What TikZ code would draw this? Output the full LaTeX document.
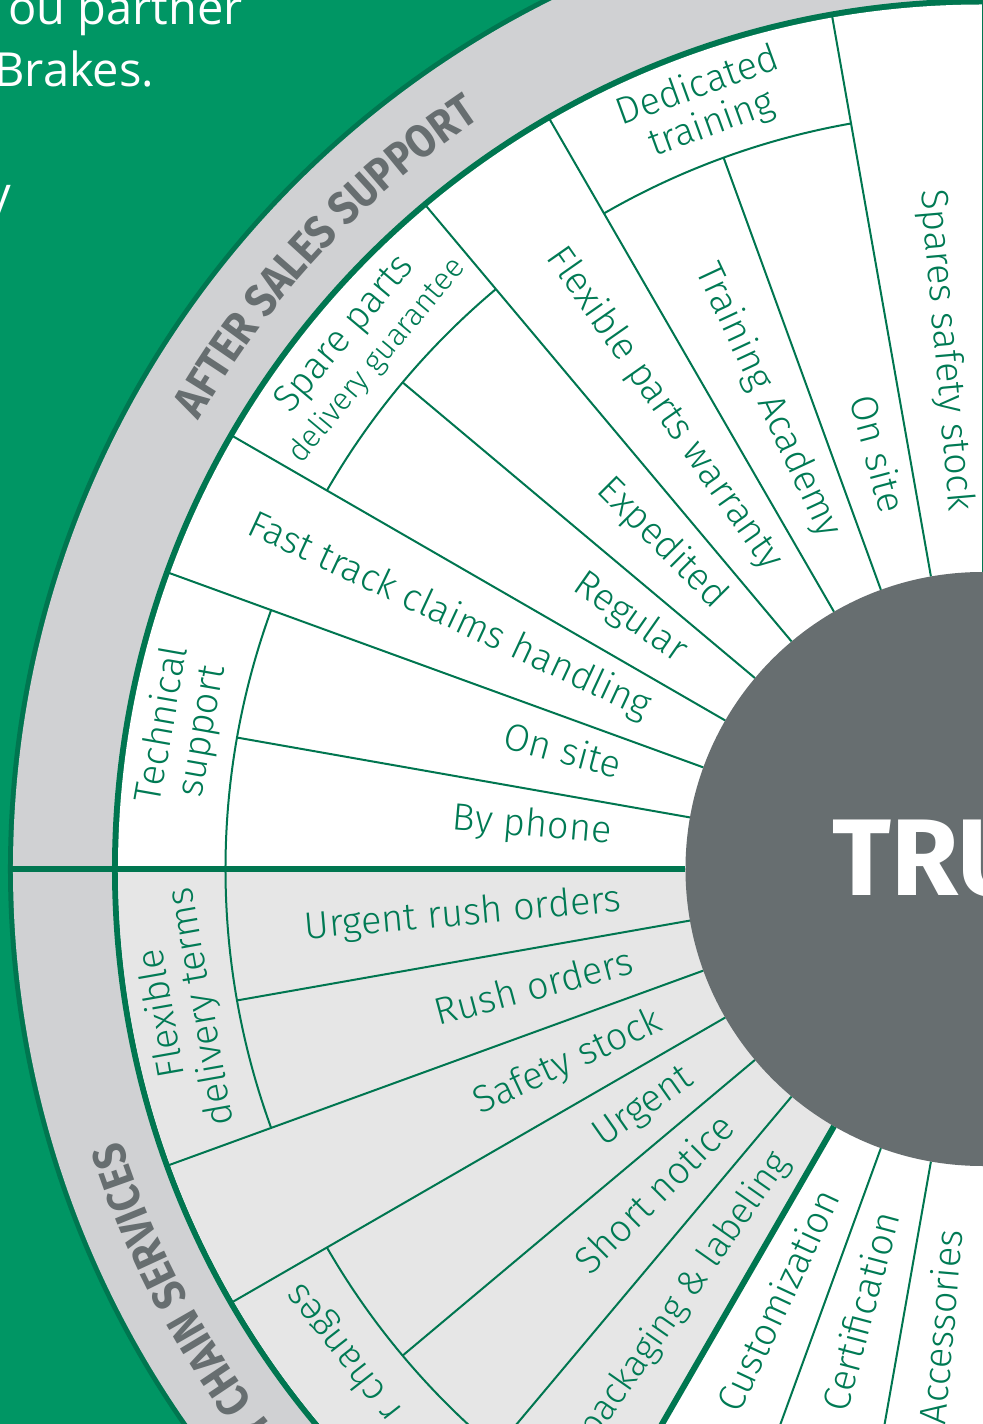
\documentclass[tikz,border=0pt]{standalone}
\usepackage{fontspec}
\IfFontExistsTF{Fira Sans Light}{\setmainfont{Fira Sans Light}[BoldFont={Fira Sans Bold}]}{\setmainfont{Fira Sans}}
\newfontfamily\introfont{Open Sans}
\newfontfamily\bandfont{Fira Sans Bold}[FakeStretch=0.88]
\usepackage{tikz}
\usetikzlibrary{decorations.text}
\usepackage{xcolor}
\definecolor{bggreen}{RGB}{0,150,100}
\definecolor{rimgreen}{RGB}{0,118,80}
\definecolor{bandgrey}{RGB}{208,209,211}
\definecolor{fillgrey}{RGB}{230,230,230}
\definecolor{coregrey}{RGB}{103,110,112}
\definecolor{labelgreen}{RGB}{0,122,84}
\tikzstyle{spoke} = [line width=1pt, color=rimgreen]
\tikzstyle{mainspoke} = [line width=3pt, color=rimgreen]
\tikzstyle{radlabel} = [anchor=east, inner sep=0pt, text height=0.8em, text depth=0.1em, text=labelgreen, font=\fontsize{19}{21}\selectfont]
\tikzstyle{catlabel} = [align=center, inner sep=0pt, text=labelgreen, font=\fontsize{19}{20}\selectfont]
\tikzstyle{introtext} = [inner sep=0pt, text=white, font=\introfont\fontsize{23.5}{28}\selectfont]

\begin{document}
\begin{tikzpicture}[x=0.5pt, y=0.5pt]
% Frame and background
\useasboundingbox (-982.5,-555) rectangle (0.5,869);
\clip (-982.5,-555) rectangle (0.5,869);
\fill[bggreen] (-982.5,-555) rectangle (0.5,869);

% Rings
\fill[rimgreen] (0,0) circle[radius=974.5];
\fill[bandgrey] (0,0) circle[radius=969.5];
\fill[rimgreen] (0,0) circle[radius=870.5];
\fill[white] (0,0) circle[radius=864.5];
\fill[fillgrey] (0,0) -- (180:864.5) arc[start angle=180, end angle=240, radius=864.5] -- cycle;

% Spokes, after sales support
\draw[spoke] (90:297) -- (90:866);
\draw[spoke] (100:297) -- (100:866);
\draw[spoke] (110:297) -- (110:757);
\draw[spoke] (120:297) -- (120:866);
\draw[spoke] (130:297) -- (130:866);
\draw[spoke] (140:297) -- (140:757);
\draw[spoke] (150:297) -- (150:866);
\draw[spoke] (160:297) -- (160:866);
\draw[spoke] (170:297) -- (170:757);

% Spokes, supply chain services
\draw[spoke] (190:297) -- (190:757);
\draw[spoke] (200:297) -- (200:866);
\draw[spoke] (210:297) -- (210:866);
\draw[spoke] (220:297) -- (220:757);
\draw[spoke] (230:297) -- (230:866);
\draw[spoke] (250:297) -- (250:866);
\draw[spoke] (260:297) -- (260:866);

% Inner arcs of the groups
\draw[spoke] (100:757) arc[start angle=100, end angle=120, radius=757];
\draw[spoke] (130:757) arc[start angle=130, end angle=150, radius=757];
\draw[spoke] (160:757) arc[start angle=160, end angle=180, radius=757];
\draw[spoke] (180:757) arc[start angle=180, end angle=200, radius=757];
\draw[spoke] (210:757) arc[start angle=210, end angle=230, radius=757];

% Main dividers
\draw[mainspoke] (180:297) -- (180:972);
\draw[mainspoke] (240:297) -- (240:867.5);

% Central node
\fill[coregrey] (0,0) circle[radius=297];
\node (core) [anchor=base west, inner sep=0pt, text=white, font=\fontsize{54.5}{60}\selectfont\bfseries] at (-150.5,-26) {TRU};

% Band titles
\path[decorate, decoration={text along path, text={|\bandfont\fontsize{23}{26}\selectfont\color{coregrey}|AFTER SALES SUPPORT}, text align=center}]
  (164:903) arc[start angle=164, end angle=110, radius=903];
\path[decorate, decoration={text along path, text={|\bandfont\fontsize{23}{26}\selectfont\color{coregrey}|Y CHAIN SERVICES}, text align=right}]
  (240:903) arc[start angle=240, end angle=197.5, radius=903];

% Intro text
\node (intro1) [introtext, anchor=base east] at (-739.5,844) {ou partner};
\node (intro2) [introtext, anchor=base west] at (-988.5,782) {Brakes.};
\node (intro3) [introtext, anchor=base east] at (-970.5,658) {y};

% Group labels
\node (tech) [catlabel, rotate=80] at (170:812) {Technical\\support};
\node (spare) [catlabel, rotate=50] at (140:812) {Spare parts\\{\fontsize{15.5}{17}\selectfont delivery guarantee}};
\node (dedic) [catlabel, rotate=20] at (110:812) {Dedicated\\training};
\node (flex) [catlabel, rotate=100] at (190:812) {Flexible\\delivery terms};
\node (order) [catlabel, anchor=east, rotate=128] at (211.3:806) {r changes};

% Service labels, after sales support
\node (phone) [radlabel, rotate=-5] at (175:372) {By phone};
\node (site1) [radlabel, rotate=-15] at (165:376) {On site};
\node (claims) [radlabel, rotate=-25] at (155:370) {Fast track claims handling};
\node (regular) [radlabel, rotate=-35] at (145:368) {Regular};
\node (exped) [radlabel, rotate=-45] at (135:373) {Expedited};
\node (warranty) [radlabel, rotate=-55] at (125:367) {Flexible parts warranty};
\node (academy) [radlabel, rotate=-65] at (115:366) {Training Academy};
\node (site2) [radlabel, rotate=-75] at (105:368) {On site};
\node (spares) [radlabel, rotate=-85] at (94.2:358) {Spares safety stock};

% Service labels, supply chain services
\node (urgrush) [radlabel, rotate=5] at (185.6:362) {Urgent rush orders};
\node (rush) [radlabel, rotate=15] at (195.6:362) {Rush orders};
\node (safety) [radlabel, rotate=25] at (205.6:356) {Safety stock};
\node (urgent) [radlabel, rotate=35] at (215.6:358) {Urgent};
\node (short) [radlabel, rotate=45] at (225.6:358) {Short notice};
\node (pack) [radlabel, rotate=55, font=\fontsize{18.3}{20}\selectfont] at (235.6:350) {d packaging \& labeling};

% Service labels, lower right
\node (custom) [radlabel, rotate=65] at (245.6:357) {Customization};
\node (certif) [radlabel, rotate=75] at (255.6:356) {Certification};
\node (access) [radlabel, rotate=85] at (265.8:362) {Accessories};
\end{tikzpicture}
\end{document}
